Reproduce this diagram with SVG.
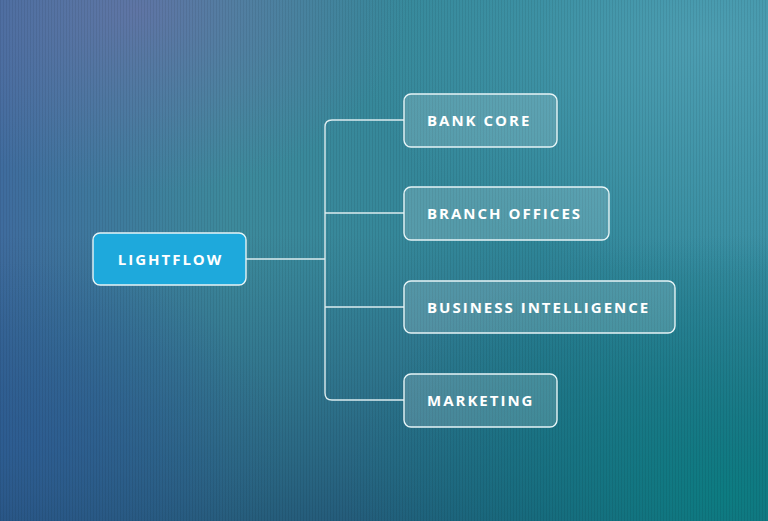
<svg xmlns="http://www.w3.org/2000/svg" width="768" height="521" viewBox="0 0 768 521">
<defs>
<linearGradient id="bg" x1="0" y1="0" x2="1" y2="0">
<stop offset="0" stop-color="#3f6c9e"/>
<stop offset="0.3" stop-color="#3d8a9c"/>
<stop offset="0.7" stop-color="#2f8698"/>
<stop offset="1" stop-color="#3a90a4"/>
</linearGradient>
<linearGradient id="vert" x1="0" y1="0" x2="0" y2="1">
<stop offset="0" stop-color="#1a4a70" stop-opacity="0"/>
<stop offset="0.45" stop-color="#1a4a70" stop-opacity="0"/>
<stop offset="1" stop-color="#173f66" stop-opacity="0.6"/>
</linearGradient>
<radialGradient id="glowTR" cx="0.92" cy="0.08" r="0.45">
<stop offset="0" stop-color="#52a2b6" stop-opacity="0.8"/>
<stop offset="1" stop-color="#52a2b6" stop-opacity="0"/>
</radialGradient>
<radialGradient id="glowBR" cx="0.95" cy="0.95" r="0.5">
<stop offset="0" stop-color="#0a7f82" stop-opacity="0.9"/>
<stop offset="1" stop-color="#0a7f82" stop-opacity="0"/>
</radialGradient>
<radialGradient id="glowBL" cx="0.02" cy="0.85" r="0.35">
<stop offset="0" stop-color="#2d5e96" stop-opacity="0.7"/>
<stop offset="1" stop-color="#2d5e96" stop-opacity="0"/>
</radialGradient>
<radialGradient id="glowTL" cx="0.18" cy="0.02" r="0.35">
<stop offset="0" stop-color="#6a72a8" stop-opacity="0.75"/>
<stop offset="1" stop-color="#6a72a8" stop-opacity="0"/>
</radialGradient>
<pattern id="stripes" width="3" height="10" patternUnits="userSpaceOnUse">
<rect x="0" y="0" width="1" height="10" fill="#000" fill-opacity="0.07"/>
</pattern>
<style>
.box{fill:#ffffff;fill-opacity:0.17;stroke:#e6f4f6;stroke-width:1.4}
.main{fill:#1ea9dc;stroke:#e6f4f6;stroke-width:1.4}
.lbl{font-family:"Open Sans","Liberation Sans",sans-serif;font-weight:700;font-size:15px;letter-spacing:2px;fill:#ffffff}
.conn{fill:none;stroke:#dcecef;stroke-width:1.4}
</style>
</defs>
<rect width="768" height="521" fill="url(#bg)"/>
<rect width="768" height="521" fill="url(#vert)"/>
<rect width="768" height="521" fill="url(#glowTR)"/>
<rect width="768" height="521" fill="url(#glowBR)"/>
<rect width="768" height="521" fill="url(#glowBL)"/>
<rect width="768" height="521" fill="url(#glowTL)"/>
<rect width="768" height="521" fill="url(#stripes)"/>
<g id="connectors">
<path class="conn" d="M246 259 H325"/>
<path class="conn" d="M404 120 H332 Q325 120 325 127 V393 Q325 400 332 400 H404"/>
<path class="conn" d="M325 213 H404"/>
<path class="conn" d="M325 307 H404"/>
</g>
<g id="lightflow">
<rect class="main" x="93" y="233" width="153" height="52" rx="7"/>
<text class="lbl" x="170.5" y="264.5" text-anchor="middle">LIGHTFLOW</text>
</g>
<g id="bank-core">
<rect class="box" x="404" y="94" width="153" height="53" rx="7"/>
<text class="lbl" x="427" y="126">BANK CORE</text>
</g>
<g id="branch-offices">
<rect class="box" x="404" y="187" width="205" height="53" rx="7"/>
<text class="lbl" x="427" y="219">BRANCH OFFICES</text>
</g>
<g id="business-intelligence">
<rect class="box" x="404" y="281" width="271" height="52" rx="7"/>
<text class="lbl" x="427" y="312.5">BUSINESS INTELLIGENCE</text>
</g>
<g id="marketing">
<rect class="box" x="404" y="374" width="153" height="53" rx="7"/>
<text class="lbl" x="427" y="406">MARKETING</text>
</g>
</svg>
